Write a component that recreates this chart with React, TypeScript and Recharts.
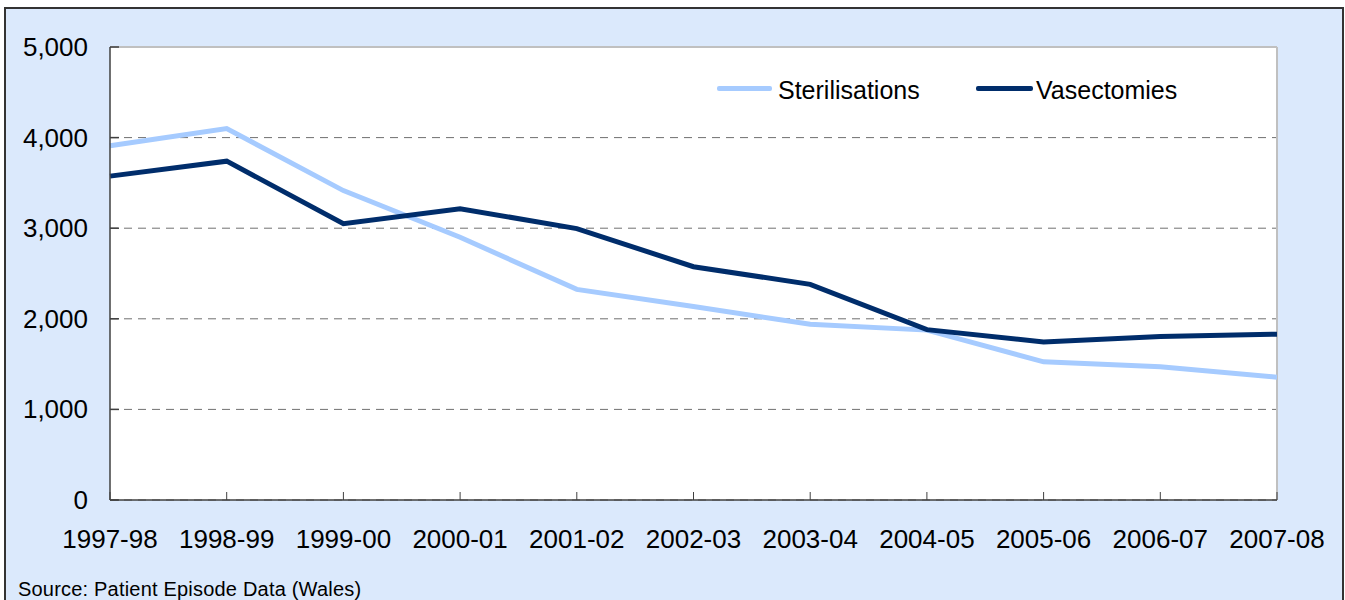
import React from 'react';
import { LineChart, Line, XAxis, YAxis, CartesianGrid, ReferenceLine } from 'recharts';

const years = ['1997-98', '1998-99', '1999-00', '2000-01', '2001-02', '2002-03', '2003-04', '2004-05', '2005-06', '2006-07', '2007-08'];
const sterilisations = [3910, 4100, 3415, 2900, 2325, 2135, 1940, 1875, 1525, 1470, 1355];
const vasectomies = [3575, 3740, 3050, 3215, 2995, 2575, 2380, 1880, 1745, 1805, 1830];
const yTicks = [0, 1000, 2000, 3000, 4000, 5000];

const FONT = '"Liberation Sans", Arial, sans-serif';
const LIGHT = '#a6cbff';
const DARK = '#002d6b';

const data = years.map((year, i) => ({
   year,
   sterilisations: sterilisations[i],
   vasectomies: vasectomies[i],
}));

const XTick = ({ x, y, payload }: any) => (
   <g>
      <line x1={x} x2={x} y1={y} y2={y - 8} stroke="#404040" strokeWidth={1} />
      <text x={x} y={y + 48} textAnchor="middle" fontSize={26} fontFamily={FONT} fill="#000">
         {payload.value}
      </text>
   </g>
);

const YTick = ({ x, y, payload }: any) => (
   <g>
      <line x1={x} x2={x + 9} y1={y} y2={y} stroke="#404040" strokeWidth={1.5} />
      <text x={x - 22} y={y + 9} textAnchor="end" fontSize={26} fontFamily={FONT} fill="#000">
         {payload.value.toLocaleString('en-GB')}
      </text>
   </g>
);

export default function App() {
   return (
      <div
         style={{
            position: 'fixed',
            left: 0,
            top: 0,
            width: 1345,
            height: 600,
            background: '#fff',
            overflow: 'hidden',
         }}
      >
         <div
            style={{
               position: 'absolute',
               left: 4,
               top: 7,
               width: 1336,
               height: 610,
               background: '#dbe9fc',
               border: '2px solid #333',
            }}
         />
         <div style={{ position: 'absolute', left: 0, top: 0 }}>
            <LineChart
               width={1345}
               height={600}
               data={data}
               margin={{ top: 47, right: 68, left: 0, bottom: 0 }}
            >
               <CartesianGrid
                  vertical={false}
                  fill="#ffffff"
                  stroke="#707070"
                  strokeDasharray="8 6"
               />
               <ReferenceLine y={5000} stroke="#c0c0c0" strokeWidth={2} />
               <ReferenceLine x="2007-08" stroke="#c0c0c0" strokeWidth={2} />
               <XAxis
                  dataKey="year"
                  height={100}
                  tickSize={0}
                  tickMargin={0}
                  tickLine={false}
                  axisLine={{ stroke: '#404040', strokeWidth: 1.5 }}
                  tick={<XTick />}
                  interval={0}
               />
               <YAxis
                  width={110}
                  domain={[0, 5000]}
                  ticks={yTicks}
                  tickSize={0}
                  tickMargin={0}
                  tickLine={false}
                  axisLine={{ stroke: '#404040', strokeWidth: 1.5 }}
                  tick={<YTick />}
                  interval={0}
               />
               <Line
                  dataKey="sterilisations"
                  name="Sterilisations"
                  stroke={LIGHT}
                  strokeWidth={5}
                  dot={false}
                  type="linear"
                  isAnimationActive={false}
               />
               <Line
                  dataKey="vasectomies"
                  name="Vasectomies"
                  stroke={DARK}
                  strokeWidth={5}
                  dot={false}
                  type="linear"
                  isAnimationActive={false}
               />
            </LineChart>
         </div>
         {/* legend */}
         <div style={{ position: 'absolute', left: 717, top: 70, width: 560, height: 40, fontFamily: FONT, fontSize: 25 }}>
            <div style={{ position: 'absolute', left: 0, top: 16, width: 55, height: 5, background: LIGHT, borderRadius: 2 }} />
            <div style={{ position: 'absolute', left: 61, top: 6, color: '#000' }}>Sterilisations</div>
            <div style={{ position: 'absolute', left: 259, top: 16, width: 57, height: 5, background: DARK, borderRadius: 2 }} />
            <div style={{ position: 'absolute', left: 319, top: 6, color: '#000' }}>Vasectomies</div>
         </div>
         <div
            style={{
               position: 'absolute',
               left: 18,
               top: 578,
               fontFamily: FONT,
               fontSize: 20,
               letterSpacing: 0.2,
               color: '#000',
            }}
         >
            Source: Patient Episode Data (Wales)
         </div>
      </div>
   );
}
